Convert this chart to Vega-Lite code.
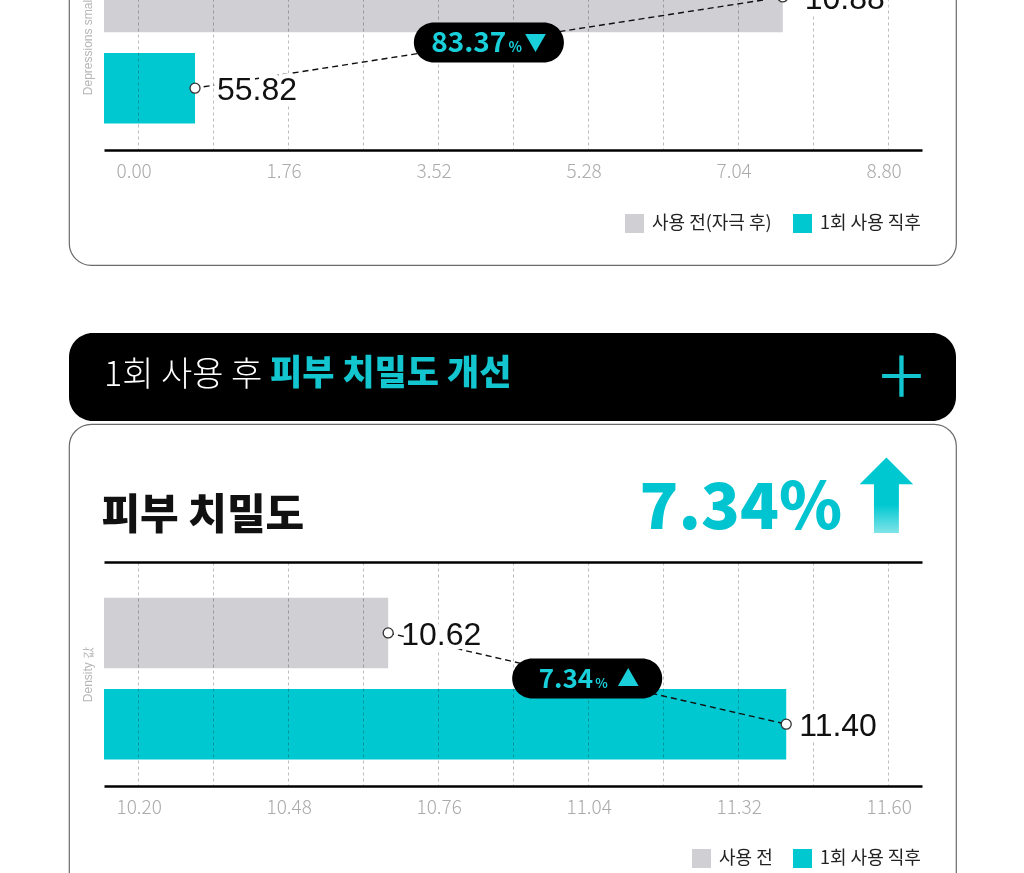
{
  "$schema": "https://vega.github.io/schema/vega-lite/v6.json",
  "background": "white",
  "padding": {"left": 68, "top": -213, "right": 10, "bottom": 0},
  "spacing": 67,
  "resolve": {"scale": {"color": "independent"}, "legend": {"color": "independent"}},
  "config": {
    "view": {"stroke": null},
    "font": "Noto Sans CJK KR"
  },
  "vconcat": [
    {
      "width": 887,
      "height": 477,
      "view": {"fill": "white", "stroke": "#6b6b6b", "strokeWidth": 1.2, "cornerRadius": 22},
      "data": {"values": [
        {"stage": "사용 전(자극 후)", "value": 7.565, "label": "10.88"},
        {"stage": "1회 사용 직후", "value": 0.669, "label": "55.82", "change": "83.37", "direction": "▼"}
      ]},
      "resolve": {"axis": {"x": "independent"}},
      "layer": [
        {
          "mark": {"type": "bar", "blend": "multiply"},
          "encoding": {
            "x": {"field": "value", "type": "quantitative",
              "scale": {"domain": [-0.39893, 9.19893], "range": [35, 853], "nice": false, "zero": false},
              "axis": {"orient": "bottom", "offset": -115, "values": [0, 1.76, 3.52, 5.28, 7.04, 8.8], "format": ".2f",
                "grid": false, "ticks": false, "tickSize": 0, "domainColor": "#000000", "domainWidth": 2.5,
                "labelAlign": "left", "labelOffset": -22, "labelPadding": 12, "labelFlush": false,
                "labelFont": "Noto Sans CJK KR", "labelFontSize": 19, "labelFontWeight": 300, "labelColor": "#ababab", "title": null}},
            "x2": {"datum": -0.39893},
            "y": {"field": "stage", "type": "nominal",
              "scale": {"type": "band", "domain": ["사용 전(자극 후)", "1회 사용 직후"], "range": [138, 362], "paddingInner": 0.227, "paddingOuter": 0.3416, "align": 0.573},
              "axis": {"title": "Depressions small 값", "labels": false, "ticks": false, "domain": false, "grid": false, "offset": -30, "titlePadding": 5,
                "titleFont": "Liberation Sans", "titleFontSize": 12, "titleFontWeight": "normal", "titleColor": "#b5b5b5"}},
            "color": {"field": "stage", "type": "nominal",
              "scale": {"domain": ["사용 전(자극 후)", "1회 사용 직후"], "range": ["#cfcfd4", "#00c8d1"]},
              "legend": {"orient": "none", "legendX": 556, "legendY": 426, "direction": "horizontal", "title": null,
                "symbolType": "square", "symbolSize": 361, "symbolStrokeWidth": 0, "symbolOpacity": 1,
                "labelFont": "Noto Sans CJK KR", "labelFontSize": 18, "labelFontWeight": 400, "labelColor": "#222222",
                "labelOffset": 8, "columnPadding": 21, "padding": 0}}
          }
        },
        {
          "mark": {"type": "line", "strokeDash": [6, 4], "color": "#111111", "strokeWidth": 1.4},
          "encoding": {
            "x": {"field": "value", "type": "quantitative",
              "axis": {"orient": "top", "offset": -138, "labels": false, "ticks": false, "tickSize": 0, "domainColor": "#000000", "domainWidth": 2.5,
                "grid": true, "values": [0, 0.88, 1.76, 2.64, 3.52, 4.4, 5.28, 6.16, 7.04, 7.92, 8.8],
                "gridColor": "#bdbdbd", "gridDash": [3, 3], "gridWidth": 1, "title": null}},
            "y": {"field": "stage", "type": "nominal"}
          }
        },
        {
          "mark": {"type": "text", "align": "left", "baseline": "middle", "dx": 22, "dy": 2, "font": "Liberation Sans", "fontSize": 32,
            "stroke": "white", "strokeWidth": 10, "strokeJoin": "round", "fill": "white"},
          "encoding": {
            "x": {"field": "value", "type": "quantitative", "axis": null},
            "y": {"field": "stage", "type": "nominal"},
            "text": {"field": "label"}
          }
        },
        {
          "mark": {"type": "text", "align": "left", "baseline": "middle", "dx": 22, "dy": 2, "font": "Liberation Sans", "fontSize": 32, "fill": "#111111"},
          "encoding": {
            "x": {"field": "value", "type": "quantitative", "axis": null},
            "y": {"field": "stage", "type": "nominal"},
            "text": {"field": "label"}
          }
        },
        {
          "mark": {"type": "point", "filled": true, "fill": "white", "stroke": "#333333", "strokeWidth": 1.3, "size": 100, "opacity": 1},
          "encoding": {
            "x": {"field": "value", "type": "quantitative", "axis": null},
            "y": {"field": "stage", "type": "nominal"}
          }
        },
        {
          "transform": [
            {"joinaggregate": [{"op": "mean", "field": "value", "as": "mid"}]},
            {"filter": "datum.change != null"}
          ],
          "encoding": {
            "x": {"field": "mid", "type": "quantitative", "axis": null},
            "y": {"field": "stage", "type": "nominal", "bandPosition": -0.147}
          },
          "layer": [
            {"mark": {"type": "point", "shape": "M-0.7333,-0.2667L0.7333,-0.2667A0.2667,0.2667,0,0,1,0.7333,0.2667L-0.7333,0.2667A0.2667,0.2667,0,0,1,-0.7333,-0.2667Z",
              "size": 22500, "filled": true, "fill": "#000000", "strokeWidth": 0, "opacity": 1}},
            {"mark": {"type": "text", "align": "right", "baseline": "middle", "dx": 17.5, "dy": 1, "font": "Noto Sans CJK KR", "fontWeight": 700, "fontSize": 28, "fill": "#18cfda"},
              "encoding": {"text": {"field": "change"}}},
            {"mark": {"type": "text", "text": "%", "align": "left", "baseline": "middle", "dx": 19.5, "dy": 5, "font": "Noto Sans CJK KR", "fontWeight": 700, "fontSize": 14, "fill": "#18cfda"}},
            {"mark": {"type": "text", "align": "center", "baseline": "middle", "dx": 46.5, "dy": 0, "font": "Noto Sans CJK KR", "fontSize": 22, "fill": "#18cfda"},
              "encoding": {"text": {"field": "direction"}}}
          ]
        }
      ]
    },
    {
      "spacing": -7,
      "resolve": {"scale": {"color": "independent"}, "legend": {"color": "independent"}},
      "vconcat": [
        {
          "title": {"text": "+", "anchor": "end", "frame": "bounds", "dx": -32, "offset": -158, "baseline": "alphabetic",
            "font": "Noto Sans CJK KR", "fontSize": 84, "fontWeight": 300, "color": "#12c5cf"},
          "vconcat": [
            {
              "title": {"text": "피부 치밀도 개선", "anchor": "start", "frame": "bounds", "dx": 201, "offset": -87, "baseline": "alphabetic",
                "font": "Noto Sans CJK KR", "fontSize": 35, "fontWeight": 900, "color": "#12c5cf"},
              "vconcat": [
                {
                  "title": {"text": "1회 사용 후", "anchor": "start", "frame": "bounds", "dx": 35, "offset": -87, "baseline": "alphabetic",
                    "font": "Noto Sans CJK KR", "fontSize": 34, "fontWeight": 300, "color": "#ffffff"},
                  "width": 887,
                  "height": 88,
                  "view": {"fill": "#000000", "stroke": null, "cornerRadius": 24},
                  "data": {"values": []},
                  "mark": "point"
                }
              ]
            }
          ]
        },
        {
          "title": {"text": "피부 치밀도", "anchor": "start", "frame": "bounds", "dx": 33, "offset": -148, "baseline": "alphabetic",
            "font": "Noto Sans CJK KR", "fontSize": 42, "fontWeight": 900, "color": "#111111"},
          "vconcat": [
            {
              "title": {"text": "⬆", "anchor": "end", "frame": "bounds", "dx": -28, "offset": -210, "baseline": "alphabetic",
                "font": "DejaVu Sans", "fontSize": 100,
                "color": {"expr": "{gradient: 'linear', x1: 0, y1: 0, x2: 0, y2: 1, stops: [{offset: 0, color: '#00c8d1'}, {offset: 0.55, color: '#00c8d1'}, {offset: 1, color: '#effcfd'}]}"}},
              "vconcat": [
                {
                  "title": {"text": "7.34%", "anchor": "end", "frame": "bounds", "dx": -114, "offset": -169, "baseline": "alphabetic",
                    "font": "Noto Sans CJK KR", "fontSize": 64, "fontWeight": 900, "color": "#00c4cf"},
                  "width": 887,
                  "height": 477,
                  "view": {"fill": "white", "stroke": "#6b6b6b", "strokeWidth": 1.2, "cornerRadius": 22},
                  "data": {"values": [
                    {"stage": "사용 전", "value": 10.667, "label": "10.62"},
                    {"stage": "1회 사용 직후", "value": 11.41, "label": "11.40", "change": "7.34", "direction": "▲"}
                  ]},
                  "resolve": {"axis": {"x": "independent"}},
                  "layer": [
                    {
                      "mark": {"type": "bar", "blend": "multiply"},
                      "encoding": {
                        "x": {"field": "value", "type": "quantitative",
                          "scale": {"domain": [10.13653, 11.66347], "range": [35, 853], "nice": false, "zero": false},
                          "axis": {"orient": "bottom", "offset": -115, "values": [10.2, 10.48, 10.76, 11.04, 11.32, 11.6], "format": ".2f",
                            "grid": false, "ticks": false, "tickSize": 0, "domainColor": "#000000", "domainWidth": 2.5,
                            "labelAlign": "left", "labelOffset": -22, "labelPadding": 12, "labelFlush": false,
                            "labelFont": "Noto Sans CJK KR", "labelFontSize": 19, "labelFontWeight": 300, "labelColor": "#ababab", "title": null}},
                        "x2": {"datum": 10.13653},
                        "y": {"field": "stage", "type": "nominal",
                          "scale": {"type": "band", "domain": ["사용 전", "1회 사용 직후"], "range": [138, 362], "paddingInner": 0.227, "paddingOuter": 0.3416, "align": 0.573},
                          "axis": {"title": "Density 값", "labels": false, "ticks": false, "domain": false, "grid": false, "offset": -30, "titlePadding": 5,
                            "titleFont": "Liberation Sans", "titleFontSize": 12, "titleFontWeight": "normal", "titleColor": "#b5b5b5"}},
                        "color": {"field": "stage", "type": "nominal",
                          "scale": {"domain": ["사용 전", "1회 사용 직후"], "range": ["#cfcfd4", "#00c8d1"]},
                          "legend": {"orient": "none", "legendX": 623, "legendY": 425, "direction": "horizontal", "title": null,
                            "symbolType": "square", "symbolSize": 361, "symbolStrokeWidth": 0, "symbolOpacity": 1,
                            "labelFont": "Noto Sans CJK KR", "labelFontSize": 18, "labelFontWeight": 400, "labelColor": "#222222",
                            "labelOffset": 8, "columnPadding": 20, "padding": 0}}
                      }
                    },
                    {
                      "mark": {"type": "line", "strokeDash": [6, 4], "color": "#111111", "strokeWidth": 1.4},
                      "encoding": {
                        "x": {"field": "value", "type": "quantitative",
                          "axis": {"orient": "top", "offset": -138, "labels": false, "ticks": false, "tickSize": 0, "domainColor": "#000000", "domainWidth": 2.5,
                            "grid": true, "values": [10.2, 10.34, 10.48, 10.62, 10.76, 10.9, 11.04, 11.18, 11.32, 11.46, 11.6],
                            "gridColor": "#bdbdbd", "gridDash": [3, 3], "gridWidth": 1, "title": null}},
                        "y": {"field": "stage", "type": "nominal"}
                      }
                    },
                    {
                      "mark": {"type": "text", "align": "left", "baseline": "middle", "dx": 13, "dy": 2, "font": "Liberation Sans", "fontSize": 32,
                        "stroke": "white", "strokeWidth": 10, "strokeJoin": "round", "fill": "white"},
                      "encoding": {
                        "x": {"field": "value", "type": "quantitative", "axis": null},
                        "y": {"field": "stage", "type": "nominal"},
                        "text": {"field": "label"}
                      }
                    },
                    {
                      "mark": {"type": "text", "align": "left", "baseline": "middle", "dx": 13, "dy": 2, "font": "Liberation Sans", "fontSize": 32, "fill": "#111111"},
                      "encoding": {
                        "x": {"field": "value", "type": "quantitative", "axis": null},
                        "y": {"field": "stage", "type": "nominal"},
                        "text": {"field": "label"}
                      }
                    },
                    {
                      "mark": {"type": "point", "filled": true, "fill": "white", "stroke": "#333333", "strokeWidth": 1.3, "size": 100, "opacity": 1},
                      "encoding": {
                        "x": {"field": "value", "type": "quantitative", "axis": null},
                        "y": {"field": "stage", "type": "nominal"}
                      }
                    },
                    {
                      "transform": [
                        {"joinaggregate": [{"op": "mean", "field": "value", "as": "mid"}]},
                        {"filter": "datum.change != null"}
                      ],
                      "encoding": {
                        "x": {"field": "mid", "type": "quantitative", "axis": null},
                        "y": {"field": "stage", "type": "nominal", "bandPosition": -0.147}
                      },
                      "layer": [
                        {"mark": {"type": "point", "shape": "M-0.7333,-0.2667L0.7333,-0.2667A0.2667,0.2667,0,0,1,0.7333,0.2667L-0.7333,0.2667A0.2667,0.2667,0,0,1,-0.7333,-0.2667Z",
                          "size": 22500, "filled": true, "fill": "#000000", "strokeWidth": 0, "opacity": 1}},
                        {"mark": {"type": "text", "align": "right", "baseline": "middle", "dx": 6, "dy": 1, "font": "Noto Sans CJK KR", "fontWeight": 700, "fontSize": 26, "fill": "#18cfda"},
                          "encoding": {"text": {"field": "change"}}},
                        {"mark": {"type": "text", "text": "%", "align": "left", "baseline": "middle", "dx": 8, "dy": 5, "font": "Noto Sans CJK KR", "fontWeight": 700, "fontSize": 13, "fill": "#18cfda"}},
                        {"mark": {"type": "text", "align": "center", "baseline": "middle", "dx": 41, "dy": 0, "font": "Noto Sans CJK KR", "fontSize": 22, "fill": "#18cfda"},
                          "encoding": {"text": {"field": "direction"}}}
                      ]
                    }
                  ]
                }
              ]
            }
          ]
        }
      ]
    }
  ]
}
